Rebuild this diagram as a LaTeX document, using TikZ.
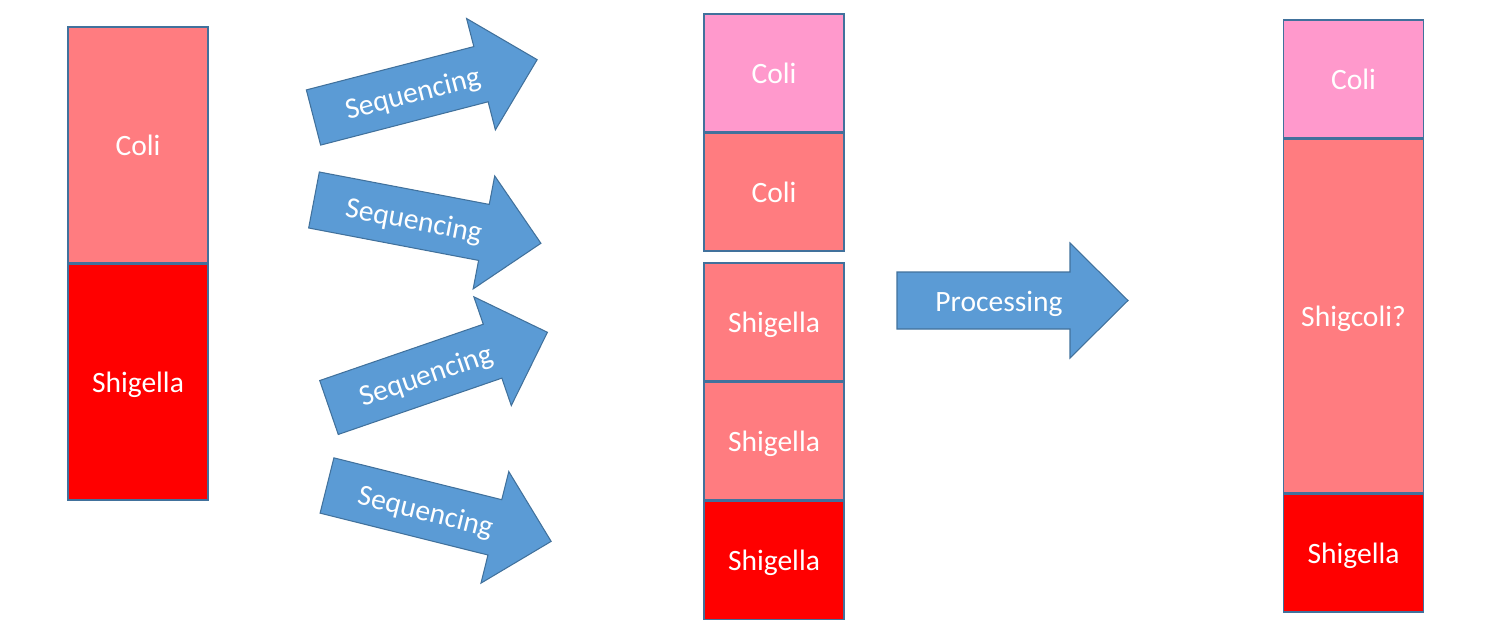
\documentclass[tikz,border=0pt]{standalone}
\usepackage{fontspec}
\setmainfont{Carlito}
\usetikzlibrary{positioning}
\definecolor{lightred}{HTML}{FF7C80}
\definecolor{pinkcoli}{HTML}{FF99CC}
\definecolor{boxline}{HTML}{41719C}
\definecolor{arrowfill}{HTML}{5B9BD5}

\begin{document}
\begin{tikzpicture}[
x=0.02cm,
y=0.02cm,
labeltext/.style={text=white, font=\fontsize{16.8}{20}\selectfont, text height=0.43cm, text depth=0cm},
samplebox/.style={rectangle, draw=boxline, line width=0.6pt, minimum width=2.8cm, inner sep=0pt, labeltext},
blockarrow/.pic={
 \draw[fill=arrowfill, draw=boxline, line width=0.6pt] (0,-28.5) -- (173,-28.5) -- (173,-57.5) -- (231,0) -- (173,57.5) -- (173,28.5) -- (0,28.5) -- cycle;
 \node[transform shape, inner sep=0pt, labeltext] (-text) at (102,0) {#1};
},
]
\useasboundingbox (0,0) rectangle (1498,623);
% sample before sequencing
\node[samplebox, fill=lightred, minimum height=4.72cm] (leftcoli) at (138,478) {Coli};
\node[samplebox, fill=red, minimum height=4.72cm, below=0pt of leftcoli] (leftshig) {Shigella};
% sequencing arrows
\pic[rotate=14.5] (seqA) at (313.5,505.5) {blockarrow=Sequencing};
\pic[rotate=-10.8] (seqB) at (314,423) {blockarrow=Sequencing};
\pic[rotate=19] (seqC) at (329,215.5) {blockarrow=Sequencing};
\pic[rotate=-14] (seqD) at (327,137.5) {blockarrow=Sequencing};
% reads
\node[samplebox, fill=pinkcoli, minimum height=2.36cm] (readA) at (774,550) {Coli};
\node[samplebox, fill=lightred, minimum height=2.36cm, below=0pt of readA] (readB) {Coli};
\node[samplebox, fill=lightred, minimum height=2.36cm] (readC) at (774,301) {Shigella};
\node[samplebox, fill=lightred, minimum height=2.36cm, below=0pt of readC] (readD) {Shigella};
\node[samplebox, fill=red, minimum height=2.36cm, below=0pt of readD] (readE) {Shigella};
% processing
\pic (proc) at (897,322.5) {blockarrow=Processing};
% result
\node[samplebox, fill=pinkcoli, minimum height=2.36cm] (rightcoli) at (1353.5,544) {Coli};
\node[samplebox, fill=lightred, minimum height=7.08cm, below=0pt of rightcoli] (rightmix) {Shigcoli?};
\node[samplebox, fill=red, minimum height=2.36cm, below=0pt of rightmix] (rightshig) {Shigella};
\end{tikzpicture}
\end{document}
